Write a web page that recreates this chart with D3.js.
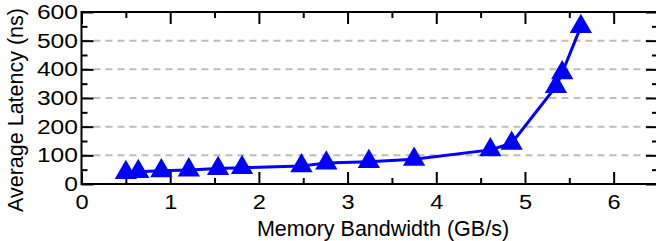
<!DOCTYPE html>
<html lang="en">
<head>
    <meta charset="UTF-8">
    <title>Memory Bandwidth vs Average Latency</title>
    <script src="https://d3js.org/d3.v7.min.js"></script>
    <style>
        body { margin: 0; background: white; }
        svg { background-color: white; display: block; }
        text { font-family: "Liberation Sans", Arial, sans-serif; fill: black; }
    </style>
</head>
<body>
    <script>
        // data
        const bandwidth = [0.50, 0.64, 0.90, 1.21, 1.54, 1.81, 2.48, 2.76, 3.24, 3.75, 4.61, 4.85, 5.35, 5.42, 5.63];
        const latency   = [40, 43, 46, 49, 54, 57, 63, 73, 78, 86, 119, 142, 340, 388, 549];

        const xMajor = [0, 1, 2, 3, 4, 5, 6];
        const yMajor = [0, 100, 200, 300, 400, 500, 600];
        const gridValues = [100, 200, 300, 400, 500];

        const width = 656;
        const height = 241;
        const plot = {left: 81.5, right: 658, top: 12, bottom: 184};

        const svg = d3.select('body')
                      .append('svg')
                      .attr('width', width)
                      .attr('height', height);

        const xScale = d3.scaleLinear()
                         .domain([0, 6.5])
                         .range([plot.left, plot.right]);

        const yScale = d3.scaleLinear()
                         .domain([0, 600])
                         .range([plot.bottom, plot.top]);

        const xMinor = d3.range(0.5, 6.5, 1);
        const yMinor = d3.range(50, 600, 100);

        // dashed grid
        svg.append('g')
           .selectAll('line')
           .data(gridValues)
           .join('line')
           .attr('x1', plot.left)
           .attr('x2', plot.right)
           .attr('y1', d => yScale(d))
           .attr('y2', d => yScale(d))
           .attr('stroke', '#bdbdbd')
           .attr('stroke-width', 2)
           .attr('stroke-dasharray', '7,5');

        function styleAxis(g) {
            g.select('.domain').remove();
            g.selectAll('.tick line').attr('stroke', 'black').attr('stroke-width', 2);
            g.selectAll('.tick text').style('font-size', '20.5px').attr('fill', 'black');
        }

        // bottom
        svg.append('g')
           .attr('transform', `translate(0,${plot.bottom})`)
           .call(d3.axisBottom(xScale).tickValues(xMajor).tickSize(-12).tickPadding(10).tickFormat(d3.format('d')))
           .call(styleAxis)
           .call(g => g.selectAll('.tick text').attr('transform', 'scale(1.15,1)').attr('dy', '0.72em'));
        svg.append('g')
           .attr('transform', `translate(0,${plot.bottom})`)
           .call(d3.axisBottom(xScale).tickValues(xMinor).tickSize(-6).tickFormat(''))
           .call(styleAxis);

        // top
        svg.append('g')
           .attr('transform', `translate(0,${plot.top})`)
           .call(d3.axisTop(xScale).tickValues(xMajor).tickSize(-12).tickFormat(''))
           .call(styleAxis);
        svg.append('g')
           .attr('transform', `translate(0,${plot.top})`)
           .call(d3.axisTop(xScale).tickValues(xMinor).tickSize(-6).tickFormat(''))
           .call(styleAxis);

        // left
        svg.append('g')
           .attr('transform', `translate(${plot.left},0)`)
           .call(d3.axisLeft(yScale).tickValues(yMajor).tickSize(-12).tickPadding(3))
           .call(styleAxis)
           .call(g => g.selectAll('.tick text').attr('transform', 'scale(1.2,1)'));
        svg.append('g')
           .attr('transform', `translate(${plot.left},0)`)
           .call(d3.axisLeft(yScale).tickValues(yMinor).tickSize(-6).tickFormat(''))
           .call(styleAxis);

        // right
        svg.append('g')
           .attr('transform', `translate(${plot.right},0)`)
           .call(d3.axisRight(yScale).tickValues(yMajor).tickSize(-12).tickFormat(''))
           .call(styleAxis);
        svg.append('g')
           .attr('transform', `translate(${plot.right},0)`)
           .call(d3.axisRight(yScale).tickValues(yMinor).tickSize(-6).tickFormat(''))
           .call(styleAxis);

        // frame
        svg.append('rect')
           .attr('x', plot.left)
           .attr('y', plot.top)
           .attr('width', plot.right - plot.left)
           .attr('height', plot.bottom - plot.top)
           .attr('fill', 'none')
           .attr('stroke', 'black')
           .attr('stroke-width', 2);

        const points = bandwidth.map((b, i) => ({x: b, y: latency[i]}));

        const line = d3.line()
                       .x(d => xScale(d.x))
                       .y(d => yScale(d.y));

        svg.append('path')
           .datum(points)
           .attr('d', line)
           .attr('fill', 'none')
           .attr('stroke', '#0000ff')
           .attr('stroke-width', 3);

        svg.append('g')
           .selectAll('path')
           .data(points)
           .join('path')
           .attr('transform', d => `translate(${xScale(d.x)},${yScale(d.y)})`)
           .attr('d', d3.symbol().type(d3.symbolTriangle).size(215))
           .attr('fill', '#0000ff');

        // axis titles
        svg.append('text')
           .attr('x', 383)
           .attr('y', 236)
           .attr('text-anchor', 'middle')
           .style('font-size', '21.5px')
           .text('Memory Bandwidth (GB/s)');

        svg.append('text')
           .attr('transform', 'translate(23,110) rotate(-90)')
           .attr('text-anchor', 'middle')
           .style('font-size', '21.5px')
           .text('Average Latency (ns)');
    </script>
</body>
</html>
